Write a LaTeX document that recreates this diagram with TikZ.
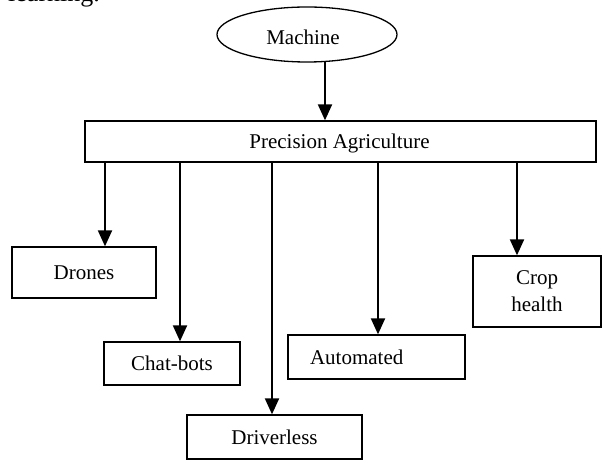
\documentclass[tikz,border=0pt]{standalone}
\usepackage{fontspec}
\setmainfont{Liberation Serif}
\usetikzlibrary{arrows.meta,shapes.geometric}
\tikzset{
  box/.style={draw, line width=1.3pt, inner sep=0pt, font=\fontsize{21}{25}\selectfont, align=center},
  arr/.style={line width=2pt, -{Triangle[width=14pt,length=16pt]}},
}
\begin{document}
\begin{tikzpicture}[x=1pt,y=-1pt]
\useasboundingbox (0,0) rectangle (603,462);
\clip (0,0) rectangle (603,462);
\node[anchor=base west, inner sep=0pt, font=\fontsize{26}{30}\selectfont] (prev) at (8,1.5) {learning.};
\node[box, ellipse, minimum width=180, minimum height=55] (mach) at (307,34.5) {};
\node[font=\fontsize{21}{25}\selectfont, inner sep=0pt] (machtxt) at (303,37) {Machine};
\node[box, minimum width=511, minimum height=41] (pa) at (340.5,141.5) {};
\node[font=\fontsize{21}{25}\selectfont, inner sep=0pt] (patxt) at (339.5,143) {Precision Agriculture};
\node[box, minimum width=144, minimum height=51] (drones) at (84,272.5) {Drones};
\node[box, minimum width=136, minimum height=43] (chat) at (172,363.5) {Chat-bots};
\node[box, minimum width=175, minimum height=44] (drive) at (274.5,437) {Driverless};
\node[box, text width=133, inner xsep=22pt, minimum height=44, align=left] (auto) at (376.5,357) {Automated};
\node[box, minimum width=128, minimum height=71, font=\fontsize{21}{27}\selectfont] (crop) at (537,291.5) {Crop\\health};
\draw[arr] (mach.south -| 325,0) ++(0,-0.5) -- (pa.north -| 325,0);
\draw[arr] (pa.south -| 105,0) -- (drones.north -| 105,0);
\draw[arr] (pa.south -| 180,0) -- (chat.north -| 180,0);
\draw[arr] (pa.south -| 272,0) -- (drive.north -| 272,0);
\draw[arr] (pa.south -| 378,0) -- (auto.north -| 378,0);
\draw[arr] (pa.south -| 517,0) -- (crop.north -| 517,0);
\end{tikzpicture}
\end{document}
